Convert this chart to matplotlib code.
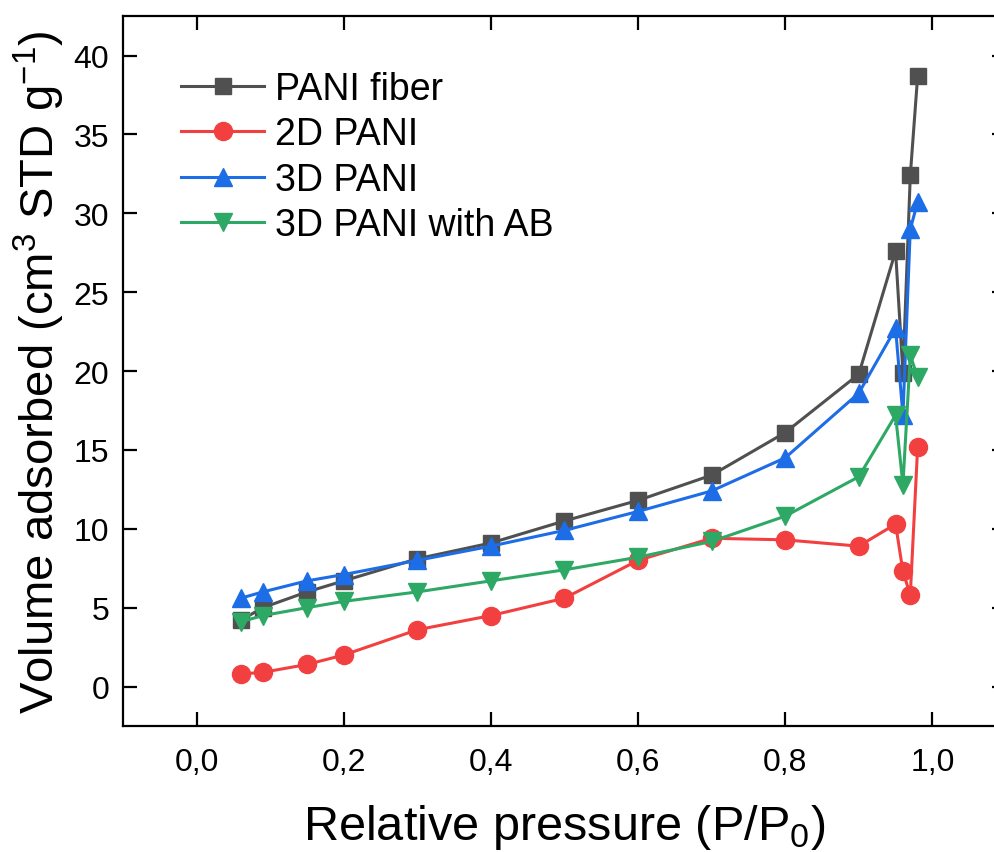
import matplotlib
matplotlib.use("Agg")
from matplotlib import pyplot as plt
from matplotlib.ticker import FuncFormatter, MultipleLocator

plt.rcParams['font.family'] = ['Liberation Sans', 'DejaVu Sans']
plt.rcParams['mathtext.default'] = 'regular'

# relative pressure points
p_rel = [0.06, 0.09, 0.15, 0.2, 0.3, 0.4, 0.5, 0.6, 0.7, 0.8, 0.9, 0.95, 0.96, 0.97, 0.98]

pani_fiber = [4.2, 5.0, 6.0, 6.7, 8.1, 9.1, 10.5, 11.8, 13.4, 16.1, 19.8, 27.6, 19.9, 32.4, 38.7]
pani_2d = [0.8, 0.9, 1.4, 2.0, 3.6, 4.5, 5.6, 8.0, 9.4, 9.3, 8.9, 10.3, 7.3, 5.8, 15.2]
pani_3d = [5.6, 6.0, 6.7, 7.1, 8.0, 8.9, 9.9, 11.1, 12.4, 14.5, 18.6, 22.7, 17.2, 29.0, 30.7]
pani_3d_ab = [4.1, 4.5, 5.0, 5.4, 6.0, 6.7, 7.4, 8.2, 9.2, 10.8, 13.3, 17.2, 12.8, 21.0, 19.6]

labels = ['PANI fiber', '2D PANI', '3D PANI', '3D PANI with AB']

fig = plt.figure(figsize=(9.95, 8.53), dpi=100)
ax = fig.add_axes([0.1236, 0.1477, 0.8874, 0.8323])

ax.plot(p_rel, pani_fiber, '-s', color='#505050', lw=2.2, ms=12, label=labels[0])
ax.plot(p_rel, pani_2d, '-o', color='#f24040', lw=2.2, ms=13, label=labels[1])
ax.plot(p_rel, pani_3d, '-^', color='#1c6de6', lw=2.2, ms=13, label=labels[2])
ax.plot(p_rel, pani_3d_ab, '-v', color='#2ea865', lw=2.2, ms=13, label=labels[3])

ax.set_xlim(-0.1, 1.1)
ax.set_ylim(-2.5, 42.5)
ax.xaxis.set_major_locator(MultipleLocator(0.2))
ax.yaxis.set_major_locator(MultipleLocator(5))
ax.xaxis.set_major_formatter(FuncFormatter(lambda v, pos: f'{v:.1f}'.replace('.', ',')))

for s in ax.spines.values():
    s.set_linewidth(1.6)
ax.tick_params(direction='in', length=10, width=1.6, labelsize=23,
               top=True, right=True, pad=10)
ax.tick_params(axis='x', pad=15)

ax.set_xlabel('Relative pressure (P/P$_0$)', fontsize=35, labelpad=18)
ax.set_ylabel('Volume adsorbed (cm$^3$ STD g$^{-1}$)', fontsize=34, labelpad=5)

ax.legend(loc='upper left', bbox_to_anchor=(0.028, 0.97), frameon=False,
          fontsize=27, handlelength=2.2, handletextpad=0.3, labelspacing=0.25)

fig.savefig('out.png', dpi=100)
